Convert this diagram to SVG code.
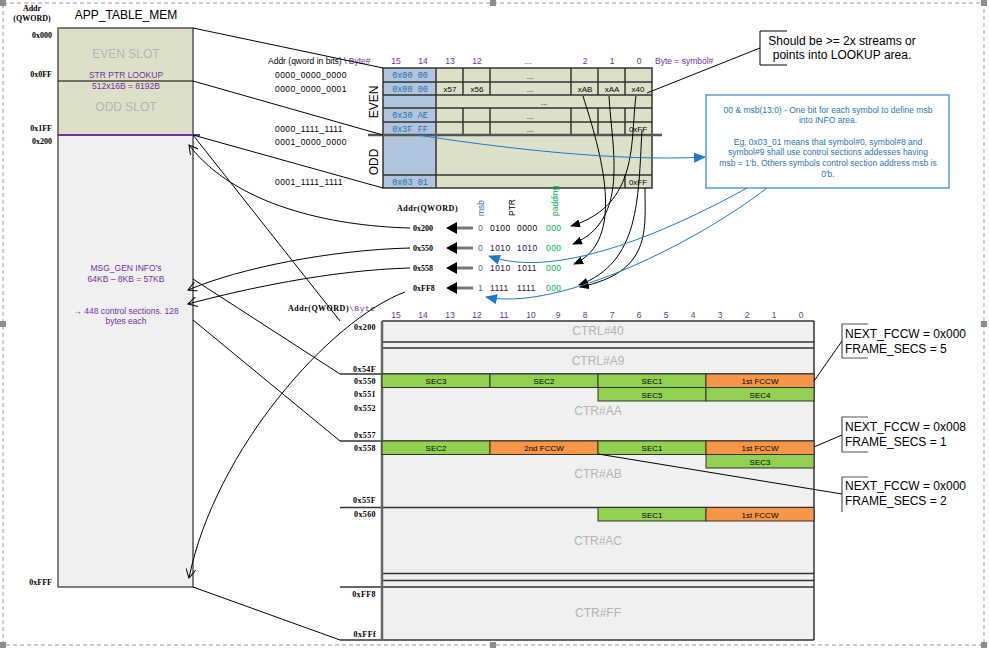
<svg xmlns="http://www.w3.org/2000/svg" width="989" height="650" viewBox="0 0 989 650">
<defs>
<style>
.ser{font-family:"Liberation Serif",serif;font-weight:bold;font-size:8px;fill:#000}
.sans{font-family:"Liberation Sans",Arial,sans-serif}
.pur{fill:#7030a0}
.gry{fill:#b4b4b4;font-size:12px}
.mono{font-family:"Liberation Mono",monospace;font-size:8.5px;fill:#1f6fb2}
.cell{font-family:"Liberation Sans",Arial,sans-serif;font-size:8px;fill:#000;text-anchor:middle}
.g{fill:#92d050;stroke:#333;stroke-width:1}
.o{fill:#f79646;stroke:#333;stroke-width:1}
.tl{stroke:#333;stroke-width:1.5;fill:none}
.thin{stroke:#000;stroke-width:1;fill:none}
.blu{stroke:#1f78c8;stroke-width:1;fill:none}
.handle{fill:#8c8c8c}
</style>
<marker id="ab" markerWidth="10" markerHeight="8" refX="9" refY="4" orient="auto" markerUnits="userSpaceOnUse"><path d="M0,0 L10,4 L0,8 z" fill="#000"/></marker>
<marker id="ao" markerWidth="10" markerHeight="10" refX="9" refY="5" orient="auto" markerUnits="userSpaceOnUse"><path d="M0,0 L9,5 L0,10" fill="none" stroke="#000" stroke-width="1"/></marker>
<marker id="abl" markerWidth="12" markerHeight="10" refX="11" refY="5" orient="auto" markerUnits="userSpaceOnUse"><path d="M0,0 L12,5 L0,10 z" fill="#1f78c8"/></marker>
</defs>
<rect width="989" height="650" fill="#fff"/>
<rect x="3" y="3" width="981" height="642" fill="none" stroke="#9a9a9a" stroke-dasharray="4,3"/>
<g id="handles">
<rect class="handle" x="0" y="0" width="6" height="6"/>
<rect class="handle" x="490" y="0" width="6" height="6"/>
<rect class="handle" x="981" y="0" width="6" height="6"/>
<rect class="handle" x="0" y="321" width="6" height="6"/>
<rect class="handle" x="981" y="321" width="6" height="6"/>
<rect class="handle" x="0" y="642" width="6" height="6"/>
<rect class="handle" x="490" y="642" width="6" height="6"/>
<rect class="handle" x="981" y="642" width="6" height="6"/>
</g>

<g id="app_table_mem">
<text class="ser" x="32" y="11" text-anchor="middle">Addr</text>
<text class="ser" x="32" y="21" text-anchor="middle">(QWORD)</text>
<text class="sans" x="126" y="19" font-size="12" text-anchor="middle">APP_TABLE_MEM</text>
<rect x="58" y="28" width="135" height="107" fill="#dde0c8" stroke="#555" stroke-width="1.5"/>
<rect x="58" y="135" width="135" height="452" fill="#f0f0f0" stroke="#555" stroke-width="1.5"/>
<line x1="58" y1="81" x2="193" y2="81" stroke="#000" stroke-width="1"/>
<line x1="58" y1="135" x2="200" y2="135" stroke="#7030a0" stroke-width="2"/>
<text class="ser" x="52" y="38" text-anchor="end">0x000</text>
<text class="ser" x="52" y="77" text-anchor="end">0x0FF</text>
<text class="ser" x="52" y="131" text-anchor="end">0x1FF</text>
<text class="ser" x="52" y="144" text-anchor="end">0x200</text>
<text class="ser" x="52" y="585" text-anchor="end">0xFFF</text>
<text class="sans gry" x="126" y="58" text-anchor="middle">EVEN SLOT</text>
<text class="sans pur" x="126" y="78" font-size="8.5" text-anchor="middle">STR PTR LOOKUP</text>
<text class="sans pur" x="126" y="89" font-size="8.5" text-anchor="middle">512x16B = 8192B</text>
<text class="sans gry" x="126" y="111" text-anchor="middle">ODD SLOT</text>
<text class="sans pur" x="126" y="271" font-size="8.5" text-anchor="middle">MSG_GEN INFO's</text>
<text class="sans pur" x="126" y="282" font-size="8.5" text-anchor="middle">64KB – 8KB = 57KB</text>
<text class="sans pur" x="126" y="314" font-size="8.5" text-anchor="middle">→ 448 control sections. 128</text>
<text class="sans pur" x="126" y="324" font-size="8.5" text-anchor="middle">bytes each</text>
</g>

<g id="lookup_table">
<text class="sans" x="268" y="64" font-size="8.5">Addr (qword in bits) <tspan class="pur">\ Byte#</tspan></text>
<g class="sans pur" font-size="8.5" text-anchor="middle">
<text x="396" y="64">15</text><text x="423" y="64">14</text><text x="450" y="64">13</text><text x="477" y="64">12</text>
<text x="528" y="64">...</text><text x="585" y="64">2</text><text x="612" y="64">1</text><text x="639" y="64">0</text>
</g>
<text class="sans pur" x="655" y="64" font-size="8.5">Byte = symbol#</text>
<g class="sans" font-size="8.5" letter-spacing="0.4">
<text x="275" y="78">0000_0000_0000</text>
<text x="275" y="92">0000_0000_0001</text>
<text x="275" y="132">0000_1111_1111</text>
<text x="275" y="145">0001_0000_0000</text>
<text x="275" y="185">0001_1111_1111</text>
</g>
<text class="sans" font-size="12" transform="translate(378,102) rotate(-90)" text-anchor="middle">EVEN</text>
<text class="sans" font-size="12" transform="translate(378,162) rotate(-90)" text-anchor="middle">ODD</text>
<rect x="383" y="68" width="53" height="120" fill="#b0c4de"/>
<rect x="436" y="68" width="216" height="120" fill="#dde0c8"/>
<g class="tl">
<rect x="383" y="68" width="269" height="120"/>
<line x1="383" y1="82" x2="652" y2="82"/>
<line x1="383" y1="95" x2="652" y2="95"/>
<line x1="383" y1="108" x2="652" y2="108"/>
<line x1="383" y1="122" x2="652" y2="122"/>
<line x1="383" y1="175" x2="652" y2="175"/>
<line x1="436" y1="68" x2="436" y2="188"/>
<path d="M463,68 V95 M490,68 V95 M571,68 V95 M598,68 V95 M625,68 V95"/>
<path d="M463,108 V135 M490,108 V135 M571,108 V135 M598,108 V135 M625,108 V135"/>
<line x1="625" y1="175" x2="625" y2="188"/>
</g>
<line x1="368" y1="135" x2="662" y2="135" stroke="#555" stroke-width="2.5"/>
<g class="mono" text-anchor="middle">
<text x="410" y="78">0x00 00</text>
<text x="410" y="92">0x00 00</text>
<text x="410" y="118">0x30 AE</text>
<text x="410" y="132">0x3F FF</text>
<text x="410" y="185">0x03 01</text>
</g>
<g class="cell">
<text x="530" y="79">...</text>
<text x="450" y="92">x57</text><text x="477" y="92">x56</text><text x="530" y="92">...</text>
<text x="585" y="92">xAB</text><text x="612" y="92">xAA</text><text x="638" y="92">x40</text>
<text x="544" y="105">...</text>
<text x="530" y="119">...</text>
<text x="530" y="132">...</text><text x="638" y="132">0xFF</text>
<text x="638" y="185">0xFF</text>
</g>
</g>

<g id="ptr_table">
<text class="ser" x="397" y="211" font-size="8.5" letter-spacing="0.5">Addr(QWORD)</text>
<text class="sans" font-size="8.5" fill="#1f6fb2" transform="translate(484,216) rotate(-90)">msb</text>
<text class="sans" font-size="8.5" transform="translate(515,216) rotate(-90)">PTR</text>
<text class="sans" font-size="8.5" fill="#00b050" transform="translate(558,216) rotate(-90)">padding</text>
<g class="ser" font-size="8.5">
<text x="413" y="231">0x200</text>
<text x="413" y="251">0x550</text>
<text x="413" y="271">0x558</text>
<text x="413" y="291">0xFF8</text>
</g>
<g stroke="#777" stroke-width="3">
<line x1="455" y1="228" x2="473" y2="228"/>
<line x1="455" y1="248" x2="473" y2="248"/>
<line x1="455" y1="268" x2="473" y2="268"/>
<line x1="455" y1="288" x2="473" y2="288"/>
</g>
<g fill="#000">
<polygon points="446,228 457,222 457,234"/>
<polygon points="446,248 457,242 457,254"/>
<polygon points="446,268 457,262 457,274"/>
<polygon points="446,288 457,282 457,294"/>
</g>
<g class="sans" font-size="8.5" letter-spacing="0.4">
<text x="478" y="231" fill="#1f6fb2">0</text><text x="490" y="231">0100</text><text x="517" y="231">0000</text><text x="546" y="231" fill="#00b050">000</text>
<text x="478" y="251" fill="#1f6fb2">0</text><text x="490" y="251" fill="#30104a">1010</text><text x="517" y="251" fill="#30104a">1010</text><text x="546" y="251" fill="#00b050">000</text>
<text x="478" y="271" fill="#1f6fb2">0</text><text x="490" y="271" fill="#30104a">1010</text><text x="517" y="271" fill="#30104a">1011</text><text x="546" y="271" fill="#00b050">000</text>
<text x="478" y="291" fill="#1f6fb2">1</text><text x="490" y="291" fill="#30104a">1111</text><text x="517" y="291" fill="#30104a">1111</text><text x="546" y="291" fill="#00b050">000</text>
</g>
</g>

<g id="ctrl_table">
<text class="ser" x="288" y="311" font-size="8.5" letter-spacing="0.5">Addr(QWORD)<tspan class="pur" font-family="Liberation Mono,monospace" font-weight="normal">\Byte</tspan></text>
<g class="sans pur" font-size="8.5" text-anchor="middle">
<text x="396" y="318">15</text><text x="423" y="318">14</text><text x="450" y="318">13</text><text x="477" y="318">12</text>
<text x="504" y="318">11</text><text x="531" y="318">10</text><text x="558" y="318">9</text><text x="585" y="318">8</text>
<text x="612" y="318">7</text><text x="639" y="318">6</text><text x="666" y="318">5</text><text x="693" y="318">4</text>
<text x="720" y="318">3</text><text x="747" y="318">2</text><text x="774" y="318">1</text><text x="801" y="318">0</text>
</g>
<rect x="382" y="321" width="432" height="319" fill="#f0f0f0"/>
<g class="tl">
<line x1="382" y1="321" x2="814" y2="321"/>
<line x1="382" y1="342" x2="814" y2="342"/>
<line x1="382" y1="348" x2="814" y2="348"/>
<line x1="340" y1="374" x2="814" y2="374"/>
<line x1="340" y1="441" x2="814" y2="441"/>
<line x1="340" y1="507.5" x2="814" y2="507.5"/>
<line x1="382" y1="573.5" x2="814" y2="573.5"/>
<line x1="382" y1="580.5" x2="814" y2="580.5"/>
<line x1="340" y1="587" x2="814" y2="587"/>
<line x1="340" y1="640" x2="814" y2="640"/>
<line x1="814" y1="321" x2="814" y2="640"/>
</g>
<line x1="382" y1="321" x2="382" y2="640" stroke="#666" stroke-width="2.5"/>
<g>
<rect class="g" x="382" y="374" width="108" height="13.5"/>
<rect class="g" x="490" y="374" width="108" height="13.5"/>
<rect class="g" x="598" y="374" width="108" height="13.5"/>
<rect class="o" x="706" y="374" width="108" height="13.5"/>
<rect class="g" x="598" y="387.5" width="108" height="13.5"/>
<rect class="g" x="706" y="387.5" width="108" height="13.5"/>
<rect class="g" x="382" y="441" width="108" height="13.5"/>
<rect class="o" x="490" y="441" width="108" height="13.5"/>
<rect class="g" x="598" y="441" width="108" height="13.5"/>
<rect class="o" x="706" y="441" width="108" height="13.5"/>
<rect class="g" x="706" y="454.5" width="108" height="13.5"/>
<rect class="g" x="598" y="507.5" width="108" height="13.5"/>
<rect class="o" x="706" y="507.5" width="108" height="13.5"/>
</g>
<g class="cell">
<text x="436" y="384">SEC3</text><text x="544" y="384">SEC2</text><text x="652" y="384">SEC1</text><text x="760" y="384">1st FCCW</text>
<text x="652" y="397.5">SEC5</text><text x="760" y="397.5">SEC4</text>
<text x="436" y="451">SEC2</text><text x="544" y="451">2nd FCCW</text><text x="652" y="451">SEC1</text><text x="760" y="451">1st FCCW</text>
<text x="760" y="464.5">SEC3</text>
<text x="652" y="517.5">SEC1</text><text x="760" y="517.5">1st FCCW</text>
</g>
<g class="sans gry" text-anchor="middle">
<text x="598" y="335">CTRL#40</text>
<text x="598" y="365">CTRL#A9</text>
<text x="598" y="415">CTR#AA</text>
<text x="598" y="478">CTR#AB</text>
<text x="598" y="545">CTR#AC</text>
<text x="598" y="617">CTR#FF</text>
</g>
<g class="ser" text-anchor="end" letter-spacing="0.4">
<text x="376" y="330">0x200</text>
<text x="376" y="372">0x54F</text>
<text x="376" y="384">0x550</text>
<text x="376" y="397">0x551</text>
<text x="376" y="411">0x552</text>
<text x="376" y="438">0x557</text>
<text x="376" y="451">0x558</text>
<text x="376" y="503">0x55F</text>
<text x="376" y="517">0x560</text>
<text x="376" y="597">0xFF8</text>
<text x="376" y="637">0xFFf</text>
</g>
</g>

<g id="note_streams">
<path d="M787,31 H760 V65 H787" fill="none" stroke="#000" stroke-width="1"/>
<text class="sans" x="842" y="45" font-size="12" text-anchor="middle">Should be &gt;= 2x  streams or</text>
<text class="sans" x="842" y="59" font-size="12" text-anchor="middle">points into LOOKUP area.</text>
</g>

<g id="note_msb">
<rect x="706" y="95" width="243" height="93" fill="#fff" stroke="#5b9bd5" stroke-width="1.5"/>
<g class="sans" font-size="8.5" fill="#2e75b6" text-anchor="middle">
<text x="828" y="113">00 &amp; msb(13:0) - One bit for each symbol to define msb</text>
<text x="828" y="123">into INFO area.</text>
<text x="828" y="145">Eg, 0x03_01 means that symbol#0, symbol#8 and</text>
<text x="828" y="155">symbol#9 shall use control sections addesses having</text>
<text x="828" y="166">msb = 1'b. Others symbols control section address msb is</text>
<text x="828" y="177">0'b.</text>
</g>
</g>

<g id="note_fccw1">
<path d="M868,324 H842 V358 H868" fill="none" stroke="#555" stroke-width="1.2"/>
<text class="sans" x="845" y="338" font-size="12">NEXT_FCCW = 0x000</text>
<text class="sans" x="845" y="353" font-size="12">FRAME_SECS = 5</text>
</g>
<g id="note_fccw2">
<path d="M868,417 H842 V452 H868" fill="none" stroke="#555" stroke-width="1.2"/>
<text class="sans" x="845" y="431" font-size="12">NEXT_FCCW = 0x008</text>
<text class="sans" x="845" y="446" font-size="12">FRAME_SECS = 1</text>
</g>
<g id="note_fccw3">
<path d="M868,477 H842 V512" fill="none" stroke="#555" stroke-width="1.2"/>
<text class="sans" x="845" y="490" font-size="12">NEXT_FCCW = 0x000</text>
<text class="sans" x="845" y="505" font-size="12">FRAME_SECS = 2</text>
</g>

<g id="connectors">
<g class="thin">
<line x1="193" y1="28" x2="383" y2="68"/>
<line x1="193" y1="81" x2="383" y2="135"/>
<line x1="193" y1="135" x2="383" y2="188"/>
<line x1="760" y1="48" x2="647" y2="93"/>
<line x1="193" y1="135" x2="340" y2="321"/>
<line x1="193" y1="279" x2="340" y2="374"/>
<line x1="193" y1="320" x2="340" y2="441"/>
<line x1="193" y1="587" x2="340" y2="640"/>
<line x1="814" y1="381" x2="842" y2="341"/>
<line x1="814" y1="447" x2="842" y2="435"/>
<line x1="598" y1="454" x2="842" y2="494"/>
</g>
<g class="thin" marker-end="url(#ao)">
<path d="M410,228 C 330,226 235,205 189,145"/>
<path d="M410,248 C 330,250 240,268 188,290"/>
<path d="M410,268 C 330,270 240,290 188,304"/>
<path d="M405,292 C 330,320 215,450 189,578"/>
</g>
<g class="thin" marker-end="url(#ab)">
<path d="M636,96 C 630,140 640,205 571,226"/>
<path d="M609,96 C 612,150 630,220 573,244"/>
<path d="M583,96 C 600,150 628,240 574,264"/>
<path d="M642,130 C 638,200 640,262 579,285"/>
<path d="M645,188 C 645,230 652,272 580,287"/>
</g>
<g class="blu" marker-end="url(#abl)">
<path d="M418,135 C 500,148 620,162 705,157"/>
<path d="M747,188 C 680,225 560,282 489,256"/>
<path d="M767,188 C 700,240 560,312 486,297"/>
</g>
</g>
</svg>
